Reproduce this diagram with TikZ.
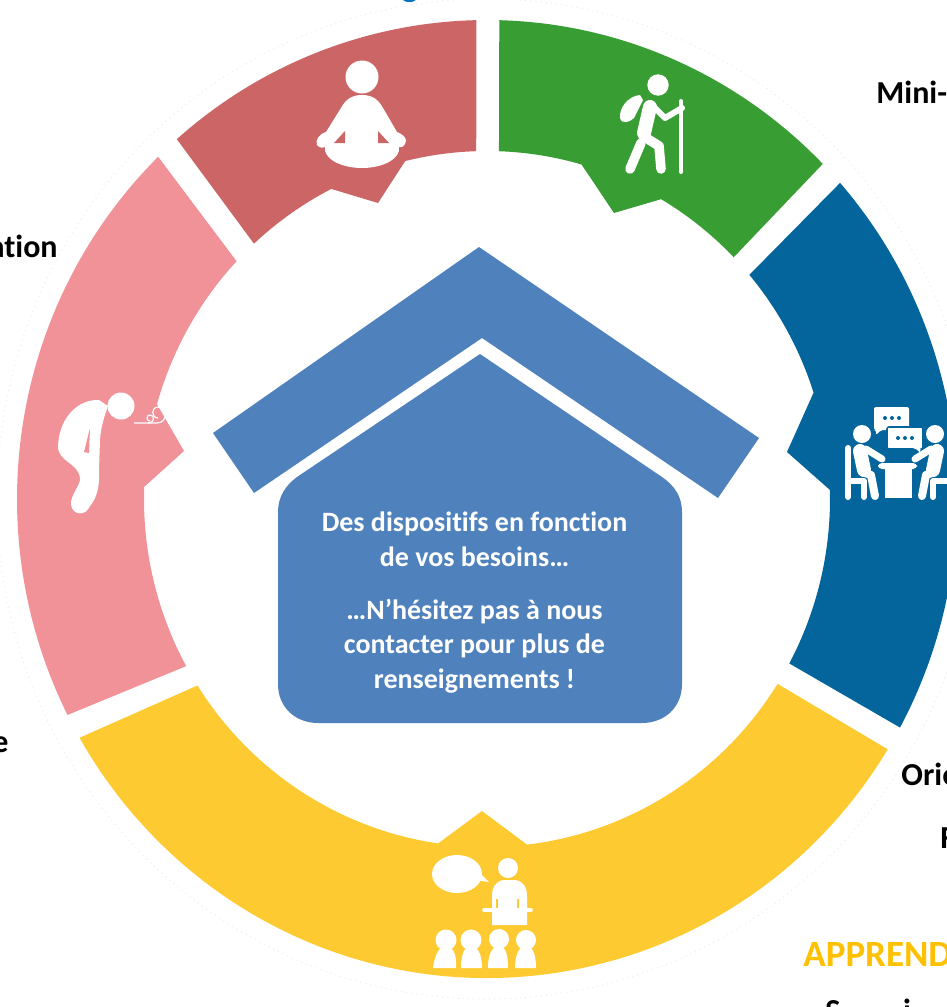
\documentclass[tikz,border=0pt]{standalone}
\usepackage{fontspec}
\setmainfont{Carlito}[Ligatures=NoCommon]
\definecolor{medred}{HTML}{CC6565}
\definecolor{hikegreen}{HTML}{389E34}
\definecolor{meetblue}{HTML}{03659C}
\definecolor{classyellow}{HTML}{FECA32}
\definecolor{breathpink}{HTML}{F09298}
\definecolor{houseblue}{HTML}{4F81BD}
\definecolor{titleyellow}{HTML}{FFC000}
\definecolor{titleblue}{HTML}{0070C0}
\def\Ro{470 and 479}
\def\Ri{343 and 348}

\begin{document}
\begin{tikzpicture}[x=.5pt,y=-.5pt,line join=round,
  white part/.style={fill=white,draw=none},
  limb/.style={draw=white,line cap=round,line width=#1},
  side label/.style={font=\fontsize{16}{18}\selectfont\bfseries,text=black,inner sep=0pt},
  house text/.style={font=\fontsize{14}{17.25}\selectfont\bfseries,text=white,align=center,inner sep=0pt}]

  \useasboundingbox (0,0) rectangle (947,1007);
  \clip (0,0) rectangle (947,1007);

  % ring
  \begin{scope}[shift={(487,499)},y=.5pt]
    \draw[black!6,line width=.6pt,dotted] (0,0) ellipse (490 and 500);
    \fill[medred] (91.3:\Ro) arc (91.3:131.3:\Ro) -- (132.8:\Ri) arc (132.8:117:\Ri)
      -- (-109,296) -- (103.8:\Ri) arc (103.8:91.8:\Ri) -- cycle;
    \fill[hikegreen] (88.5:\Ro) arc (88.5:44.4:\Ro) -- (44:\Ri) arc (44:59.5:\Ri)
      -- (127,286) -- (74:\Ri) arc (74:88:\Ri) -- cycle;
    \fill[meetblue] (41.3:\Ro) arc (41.3:-28.5:\Ro) -- (-28.2:\Ri) arc (-28.2:1.5:\Ri)
      -- (300,47) -- (17.8:\Ri) arc (17.8:40.1:\Ri) -- cycle;
    \fill[classyellow] (-31.5:\Ro) arc (-31.5:-150.1:\Ro) -- (-147.6:\Ri) arc (-147.6:-98.2:\Ri)
      -- (-5,-312) -- (-83.3:\Ri) arc (-83.3:-32.1:\Ri) -- cycle;
    \fill[breathpink] (206.8:\Ro) arc (206.8:134.4:\Ro) -- (136.9:\Ri) arc (136.9:164.2:\Ri)
      -- (-303,48) -- (178:\Ri) arc (178:208.7:\Ri) -- cycle;
  \end{scope}

  % house
  \fill[houseblue] (479,247) -- (759,438) -- (718,498) -- (482,338) -- (254,493) -- (213,433) -- cycle;
  \fill[houseblue] (480,354) -- (662,477) .. controls (675,486) and (682,497) .. (682,512)
    -- (682,684) .. controls (682,708) and (664,723) .. (642,723) -- (318,723)
    .. controls (296,723) and (278,708) .. (278,684) -- (278,512)
    .. controls (278,497) and (285,486) .. (297,477) -- cycle;
  \node[house text] (besoins) at (474.5,602.5) {Des dispositifs en fonction\\de vos besoins…\\[9.25pt]…N’hésitez pas à nous\\contacter pour plus de\\renseignements !};

  % meditation
  \fill[white part] (362,77) circle (16.5);
  \fill[white part] (362,95) .. controls (352,95) and (346,99) .. (341,108) -- (326,132)
    .. controls (319,134) and (315,140) .. (317,145) .. controls (319,148) and (323,148) .. (325,147)
    .. controls (323,158) and (340,168) .. (362,168) .. controls (384,168) and (401,158) .. (399,147)
    .. controls (402,148) and (405,146) .. (406,141) .. controls (406,137) and (402,134) .. (397,132)
    -- (383,108) .. controls (378,99) and (372,95) .. (362,95) -- cycle;
  \fill[medred] (334,143) -- (345,131) -- (345,143) -- cycle;
  \fill[medred] (378,131) -- (389,143) -- (378,143) -- cycle;

  % hiker
  \fill[white part] (658,85) circle (10.7);
  \fill[white part] (640,95) .. controls (628,96) and (619,108) .. (620,118)
    .. controls (622,125) and (630,122) .. (634,118) -- (643,100) -- cycle;
  \draw[limb=7pt] (650,107) -- (644,133);
  \draw[limb=3pt] (655,108) -- (665,118) -- (682,108);
  \draw[limb=4.8pt] (643,136) -- (659,146) -- (661,169);
  \draw[limb=4.8pt] (641,143) -- (630,169);
  \draw[limb=2pt] (681,101) -- (681,172);

  % person bent over, breathing out
  \fill[white part] (121,406) circle (13.5);
  \fill[white part] (99,400) .. controls (80,399) and (60,415) .. (58,445)
    .. controls (57,462) and (78,462) .. (80,478) .. controls (81,485) and (70,495) .. (71,505)
    .. controls (73,516) and (86,516) .. (90,506) .. controls (97,498) and (100,485) .. (99,470)
    -- (100,440) .. controls (101,425) and (105,415) .. (108,406) -- cycle;
  \fill[breathpink] (90,428) -- (84,452) -- (89,453) -- cycle;
  \draw[white,line width=.6pt] (134,423) -- (148,423) .. controls (155,423) and (155,415) .. (150,415)
    .. controls (146,415) and (146,421) .. (150,421);
  \draw[white,line width=.6pt] (148,423) -- (157,423) .. controls (168,423) and (168,407) .. (158,407)
    .. controls (151,407) and (151,418) .. (158,418);

  % meeting
  \fill[white part,rounded corners=1pt] (874,407) -- (909,407) -- (909,430) -- (881,430) -- (876,435) -- (876,430) -- (874,430) -- cycle;
  \filldraw[fill=white,draw=meetblue,line width=.8pt,rounded corners=1pt] (887,427) -- (923,427) -- (923,449) -- (921,449) -- (921,455) -- (915,449) -- (887,449) -- cycle;
  \fill[meetblue] (885,418) circle (2) (892,418) circle (2) (899,418) circle (2);
  \fill[meetblue] (898,438) circle (2) (905,438) circle (2) (912,438) circle (2);
  \fill[white part] (862,434) circle (9) (935,434) circle (9);
  \fill[white part,rounded corners=2pt] (878,463) rectangle (917,469);
  \fill[white part] (885,468) rectangle (912,498);
  \draw[limb=7pt] (860,451) -- (864,470);
  \draw[limb=3.5pt] (866,449) -- (882,459);
  \draw[limb=4pt] (862,472) -- (871,475) -- (875,496);
  \draw[limb=3pt] (848,448) -- (848,497);
  \draw[limb=3pt] (848,481) -- (864,481) -- (864,497);
  \draw[limb=7pt] (937,451) -- (933,470);
  \draw[limb=3.5pt] (931,449) -- (915,459);
  \draw[limb=4pt] (935,472) -- (926,475) -- (922,496);
  \draw[limb=3pt] (949,481) -- (933,481) -- (933,497);

  % class
  \fill[white part] (457,874) ellipse (25 and 19);
  \fill[white part] (475,868) -- (489,882) -- (474,880) -- cycle;
  \fill[white part] (508,868) circle (10);
  \fill[white part] (503,880) -- (516,880) .. controls (524,882) and (527,888) .. (527,895)
    -- (527,925) -- (492,925) -- (492,895) .. controls (492,888) and (495,882) .. (503,880) -- cycle;
  \draw[limb=1.8pt] (484,910) -- (531,910);
  \draw[classyellow,line width=.9pt] (497,899) -- (497,908) (518,899) -- (518,908);
  \fill[white part] (446,940) circle (10.5) (471,940) circle (10.5) (499,939) circle (10) (526,940) circle (10);
  \fill[white part] (433,968) .. controls (435,953) and (440,946) .. (446,946) .. controls (452,946) and (457,953) .. (456,968) -- cycle;
  \fill[white part] (461,968) .. controls (461,953) and (465,946) .. (471,946) .. controls (477,946) and (482,953) .. (482,968) -- cycle;
  \fill[white part] (488,968) .. controls (488,953) and (493,946) .. (499,946) .. controls (505,946) and (508,953) .. (508,968) -- cycle;
  \fill[white part] (515,968) .. controls (515,953) and (520,946) .. (526,946) .. controls (532,946) and (536,953) .. (536,968) -- cycle;

  % texts cut by the page
  \node[side label,anchor=base west] (mini) at (876,103) {Mini-};
  \node[side label,anchor=base east] (ation) at (58,257) {ation};
  \node[side label,anchor=base east] (lettre) at (9,752) {e};
  \node[side label,anchor=base west] (orie) at (901,785) {Orie};
  \node[side label,anchor=base west] (fcut) at (940,848) {F};
  \node[side label,anchor=base west,font=\fontsize{18.5}{20}\selectfont\bfseries,text=titleyellow] (apprend) at (803,966) {APPREND};
  \node[side label,anchor=base west] (scut) at (825,1021) {S};
  \node[side label,anchor=base] (icut) at (907,1021) {i};
  \node[side label,anchor=base,font=\fontsize{18}{20}\selectfont\bfseries,text=titleblue] (gcut) at (410,-4) {g};
\end{tikzpicture}
\end{document}
